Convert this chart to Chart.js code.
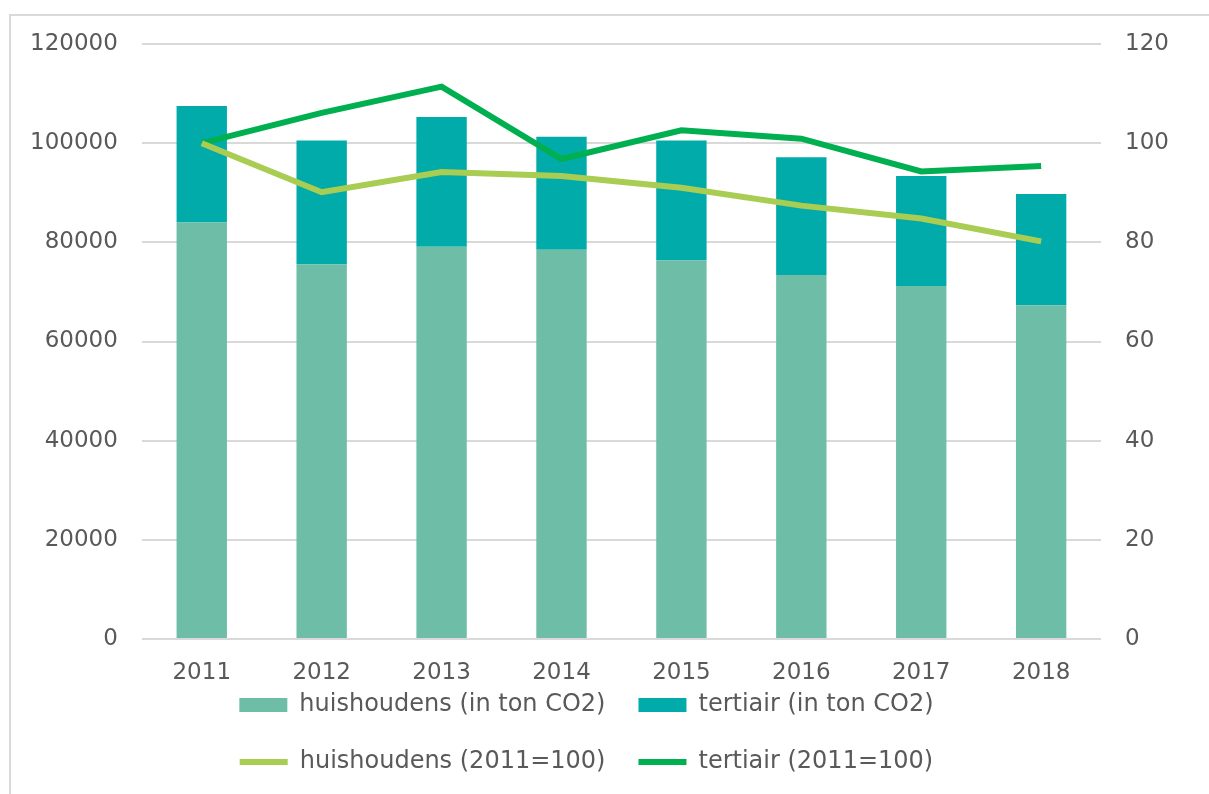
<!DOCTYPE html>
<html>
<head>
<meta charset="utf-8">
<script src="https://cdn.jsdelivr.net/npm/chart.js@4/dist/chart.umd.min.js"></script>
<style>
  body { margin: 0; background: #fff; }
  #frame { position: absolute; left: 9px; top: 14px; width: 1220px; height: 800px; border: 2px solid #d9d9d9; }
  #wrap { position: absolute; left: 0; top: 0; width: 1209px; height: 794px; }
</style>
</head>
<body>
<div id="frame"></div>
<div id="wrap"><canvas id="chart"></canvas></div>
<script>
const years = ["2011", "2012", "2013", "2014", "2015", "2016", "2017", "2018"];
const huishoudensTon = [84000, 75600, 79100, 78500, 76400, 73400, 71200, 67300];
const tertiairTon = [23500, 24950, 26200, 22800, 24150, 23750, 22200, 22450];
const huishoudensIndex = [100, 90.1, 94.2, 93.4, 91.0, 87.4, 84.8, 80.2];
const tertiairIndex = [100, 106.1, 111.4, 96.8, 102.6, 100.9, 94.3, 95.4];

const fontFamily = "'DejaVu Sans', Verdana, sans-serif";
const textColor = "#595959";
const tickFont = { family: fontFamily, size: 23 };

// pull the legend up closer to the year labels and a bit to the left, like the original
const legendShift = {
    id: "legendShift",
    afterLayout: function (chart) {
        const lg = chart.legend;
        lg.top -= 24;
        lg.bottom -= 24;
        lg.left -= 35;
        lg.right -= 35;
    }
};

new Chart(document.getElementById("chart"), {
    data: {
        labels: years,
        datasets: [
            {
                type: "bar",
                label: "huishoudens (in ton CO2)",
                data: huishoudensTon,
                backgroundColor: "#6dbda7",
                yAxisID: "y",
                order: 1,
                barPercentage: 0.42,
                categoryPercentage: 1
            },
            {
                type: "bar",
                label: "tertiair (in ton CO2)",
                data: tertiairTon,
                backgroundColor: "#00aba9",
                yAxisID: "y",
                order: 1,
                barPercentage: 0.42,
                categoryPercentage: 1
            },
            {
                type: "line",
                label: "huishoudens (2011=100)",
                data: huishoudensIndex,
                borderColor: "#a9cc52",
                backgroundColor: "#a9cc52",
                borderWidth: 6,
                pointRadius: 0,
                tension: 0,
                yAxisID: "y1",
                order: 0
            },
            {
                type: "line",
                label: "tertiair (2011=100)",
                data: tertiairIndex,
                borderColor: "#00b050",
                backgroundColor: "#00b050",
                borderWidth: 6,
                pointRadius: 0,
                tension: 0,
                yAxisID: "y1",
                order: 0
            }
        ]
    },
    plugins: [legendShift],
    options: {
        responsive: true,
        maintainAspectRatio: false,
        animation: false,
        layout: {
            padding: { left: 6, right: 16, top: 44, bottom: -14 }
        },
        plugins: {
            tooltip: { enabled: false },
            legend: {
                position: "bottom",
                fullSize: false,
                labels: {
                    color: textColor,
                    font: { family: fontFamily, size: 24 },
                    usePointStyle: true,
                    pointStyleWidth: 48,
                    boxHeight: 14,
                    padding: 33,
                    generateLabels: function (chart) {
                        return chart.data.datasets.map(function (ds, i) {
                            const isLine = ds.type === "line";
                            return {
                                text: ds.label,
                                fillStyle: ds.backgroundColor,
                                strokeStyle: isLine ? ds.borderColor : ds.backgroundColor,
                                lineWidth: isLine ? 6 : 0,
                                pointStyle: isLine ? "line" : "rect",
                                fontColor: textColor,
                                datasetIndex: i
                            };
                        });
                    }
                }
            }
        },
        scales: {
            x: {
                stacked: true,
                grid: { display: false, drawTicks: false },
                border: { display: false },
                ticks: { color: textColor, font: tickFont, padding: 20 },
                afterFit: function (axis) { axis.height = 45; }
            },
            y: {
                stacked: true,
                position: "left",
                min: 0,
                max: 120000,
                ticks: {
                    stepSize: 20000,
                    color: textColor,
                    font: tickFont,
                    padding: 24,
                    format: { useGrouping: false }
                },
                grid: { color: "#d9d9d9", lineWidth: 2, drawTicks: false },
                border: { display: false }
            },
            y1: {
                position: "right",
                min: 0,
                max: 120,
                ticks: {
                    stepSize: 20,
                    color: textColor,
                    font: tickFont,
                    padding: 24
                },
                grid: { display: false, drawTicks: false },
                border: { display: false }
            }
        }
    }
});
</script>
</body>
</html>
